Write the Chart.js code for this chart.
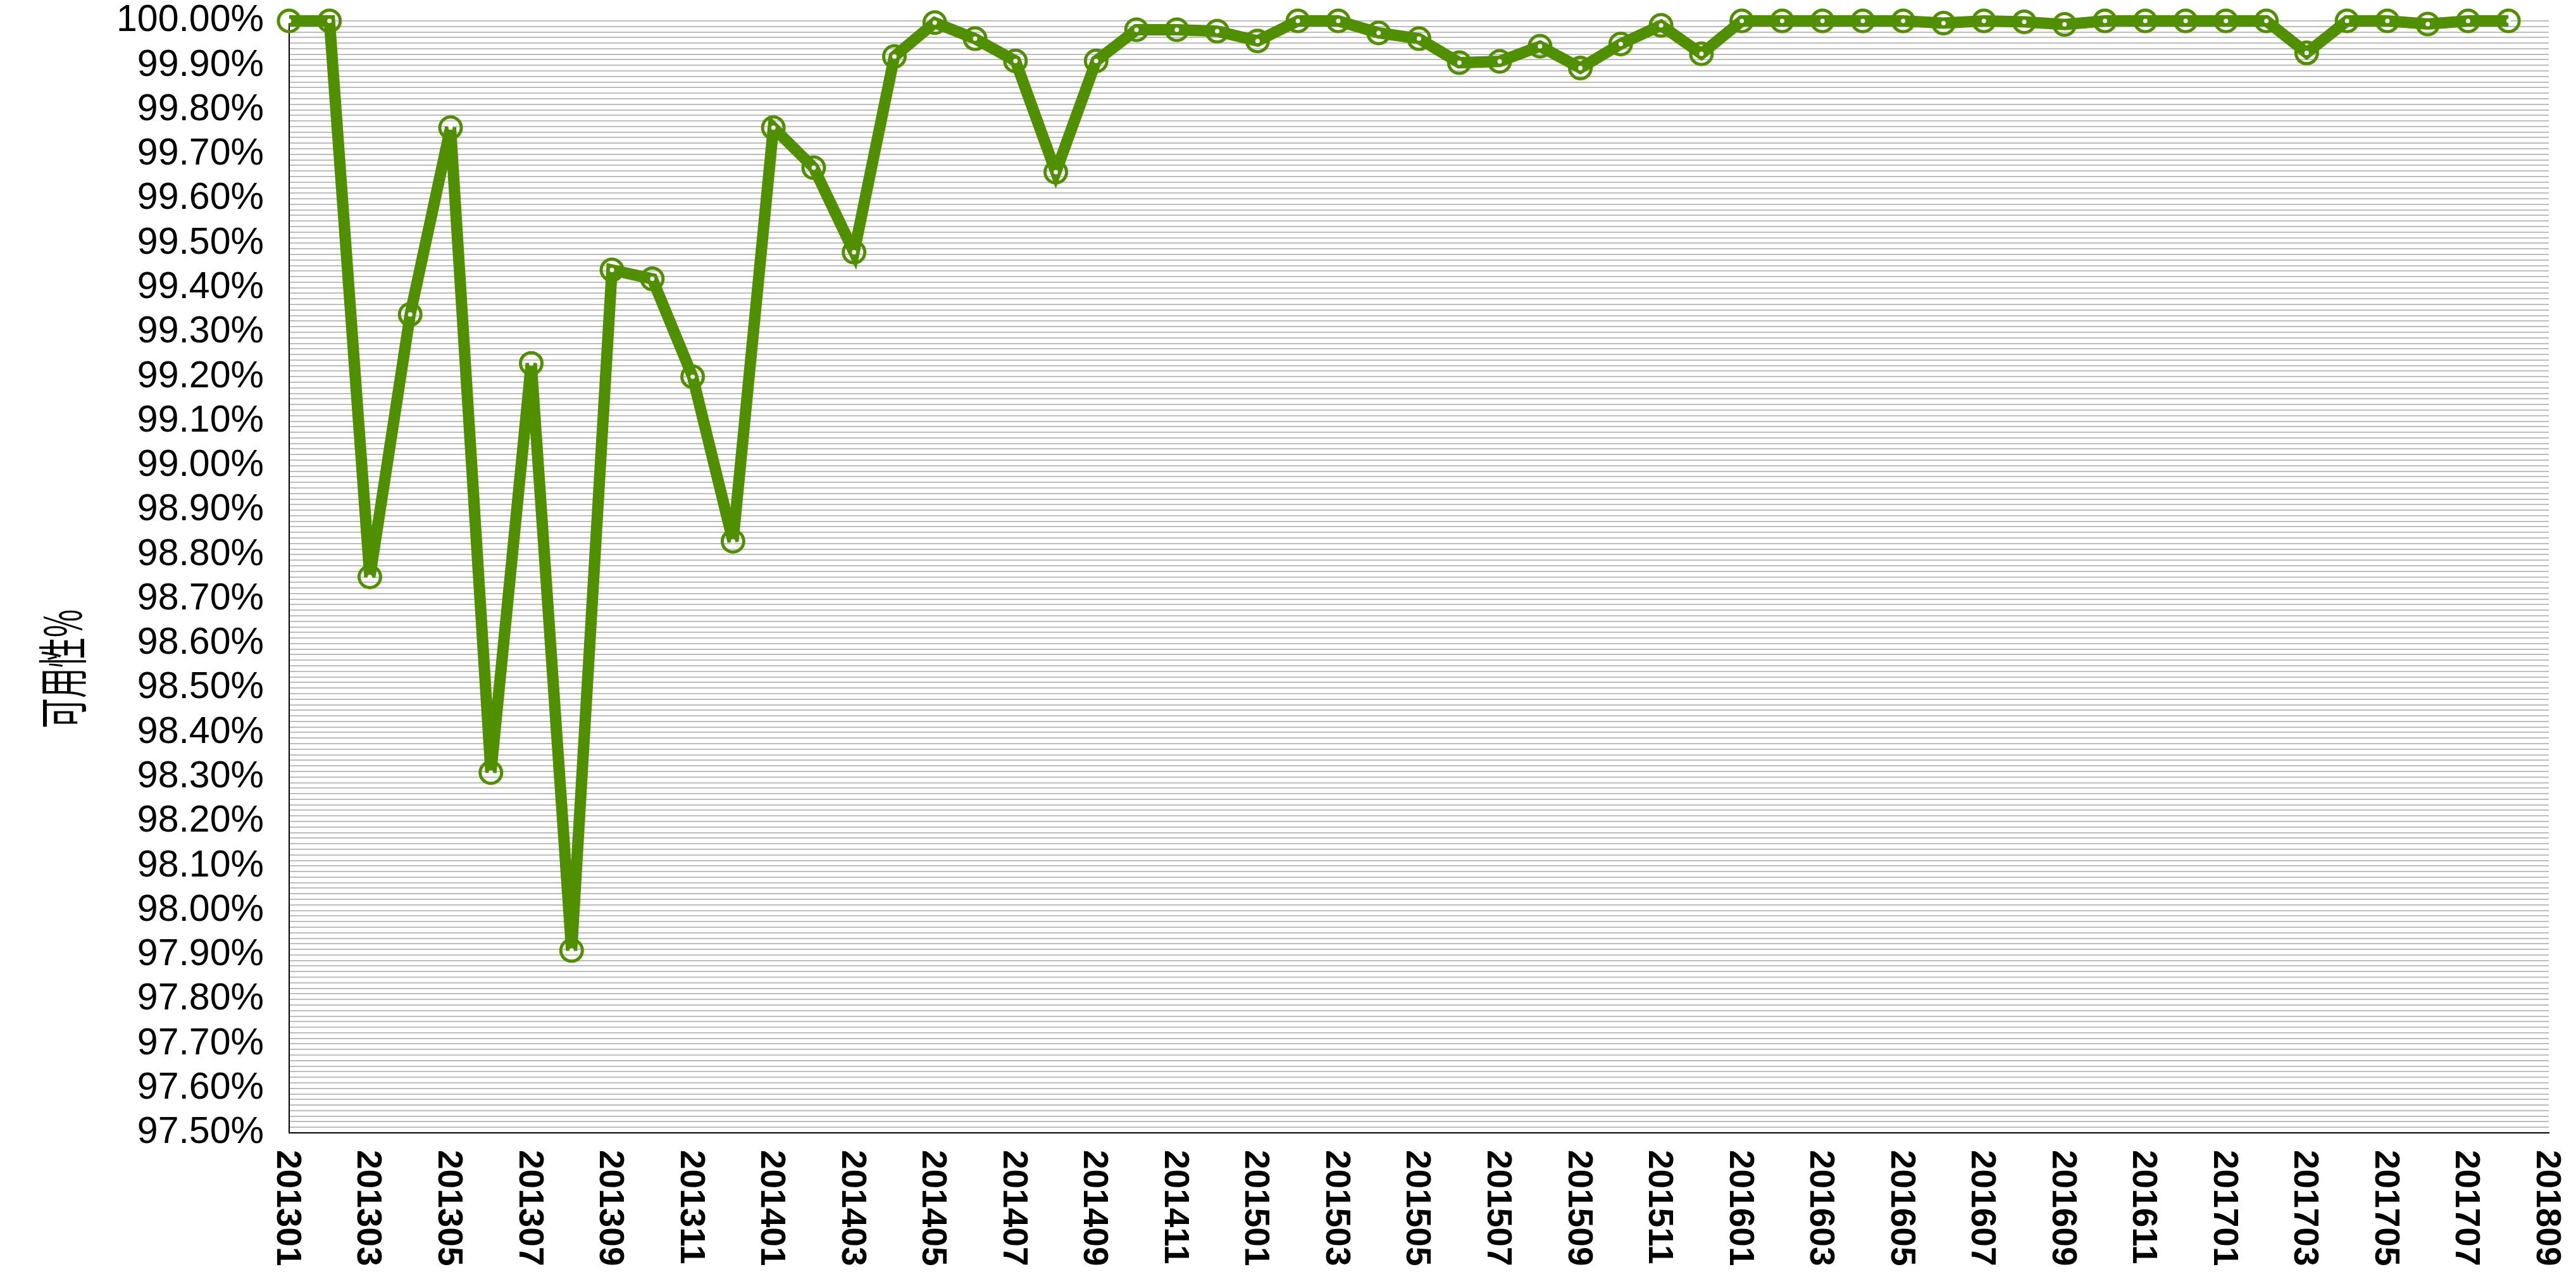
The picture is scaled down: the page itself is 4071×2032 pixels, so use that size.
<!DOCTYPE html>
<html>
<head>
<meta charset="utf-8">
<script src="https://cdn.jsdelivr.net/npm/chart.js@4.4.1/dist/chart.umd.min.js"></script>
<style>
html,body{margin:0;padding:0;background:#fff;}
#wrap{width:4071px;height:2032px;position:relative;}
</style>
</head>
<body>
<div id="wrap"><canvas id="c" width="4071" height="2032"></canvas></div>
<script>
const categories = [
  '201301','201302','201303','201304','201305','201306','201307','201308','201309','201310','201311','201312',
  '201401','201402','201403','201404','201405','201406','201407','201408','201409','201410','201411','201412',
  '201501','201502','201503','201504','201505','201506','201507','201508','201509','201510','201511','201512',
  '201601','201602','201603','201604','201605','201606','201607','201608','201609','201610','201611','201612',
  '201701','201702','201703','201704','201705','201706','201707','201708',
  '201809'
];
const availability = [
  100.00, 100.00, 98.75, 99.34, 99.76, 98.31, 99.23, 97.91, 99.44, 99.42,
  99.20, 98.83, 99.76, 99.67, 99.48, 99.92, 99.996, 99.96, 99.91, 99.66,
  99.91, 99.98, 99.98, 99.977, 99.955, 100.00, 100.00, 99.973, 99.96, 99.906,
  99.909, 99.943, 99.894, 99.948, 99.99, 99.926, 100.00, 100.00, 100.00, 100.00,
  100.00, 99.995, 100.00, 99.998, 99.992, 100.00, 100.00, 100.00, 100.00, 100.00,
  99.928, 100.00, 100.00, 99.993, 100.00, 100.00, null
];
const yAxisTitle = '可用性%';
const yMin = 97.5, yMax = 100, yGridStep = 0.0125, yLabelStep = 0.1;

const GREEN = '#4f8f00';

const joinStyle = {
  id: 'joinStyle',
  beforeDatasetsDraw(chart) { chart.ctx.miterLimit = 4; }
};

const customText = {
  id: 'customText',
  afterDraw(chart) {
    const ctx = chart.ctx;
    const xs = chart.scales.x;
    const area = chart.chartArea;
    ctx.save();
    ctx.fillStyle = '#000';
    ctx.font = 'bold 55px "Liberation Sans", Arial, sans-serif';
    ctx.textAlign = 'left';
    ctx.textBaseline = 'alphabetic';
    categories.forEach((c, i) => {
      if (i % 2) return;
      const x = xs.getPixelForValue(i);
      ctx.save();
      ctx.translate(x, area.bottom + 27);
      ctx.rotate(Math.PI / 2);
      ctx.fillText(c, 0, 19);
      ctx.restore();
    });
    ctx.font = '80px "Noto Sans CJK SC", sans-serif';
    ctx.textAlign = 'center';
    ctx.textBaseline = 'middle';
    ctx.translate(99, 1057);
    ctx.rotate(-Math.PI / 2);
    ctx.scale(0.6, 1);
    ctx.fillText(yAxisTitle, 0, 0);
    ctx.restore();
  }
};

new Chart(document.getElementById('c'), {
  type: 'line',
  data: {
    labels: categories,
    datasets: [
      {
        data: availability,
        showLine: false,
        clip: false,
        pointRadius: 3.5,
        pointHoverRadius: 3.5,
        pointBackgroundColor: '#ffffff',
        pointBorderWidth: 0,
        borderColor: '#ffffff',
        order: 0
      },
      {
        data: availability,
        clip: false,
        borderColor: GREEN,
        borderWidth: 18,
        borderJoinStyle: 'miter',
        tension: 0,
        fill: false,
        pointStyle: 'circle',
        pointRadius: 17,
        pointHoverRadius: 17,
        pointBorderWidth: 5,
        pointBorderColor: GREEN,
        pointBackgroundColor: 'rgba(0,0,0,0)',
        order: 1
      }
    ]
  },
  options: {
    responsive: false,
    devicePixelRatio: 1,
    animation: false,
    layout: { padding: { left: 184, right: 43, top: 33, bottom: 242 } },
    plugins: { legend: { display: false }, tooltip: { enabled: false }, title: { display: false } },
    scales: {
      x: {
        type: 'category',
        offset: false,
        grid: { display: false, drawTicks: false },
        border: { display: true, color: '#000', width: 2 },
        ticks: { display: false }
      },
      y: {
        min: yMin,
        max: yMax,
        border: { display: true, color: '#000', width: 2 },
        grid: { color: '#bdbdbd', lineWidth: 2, drawTicks: true, tickLength: 40, tickColor: 'rgba(0,0,0,0)' },
        ticks: {
          stepSize: yGridStep,
          autoSkip: false,
          padding: 0,
          color: '#000',
          font: { family: '"Liberation Sans", Arial, sans-serif', size: 59, lineHeight: 1 },
          callback: (v) => {
            const k = v / yLabelStep;
            return Math.abs(k - Math.round(k)) < 1e-6 ? v.toFixed(2) + '%' : '';
          }
        }
      }
    }
  },
  plugins: [joinStyle, customText]
});
</script>
</body>
</html>
